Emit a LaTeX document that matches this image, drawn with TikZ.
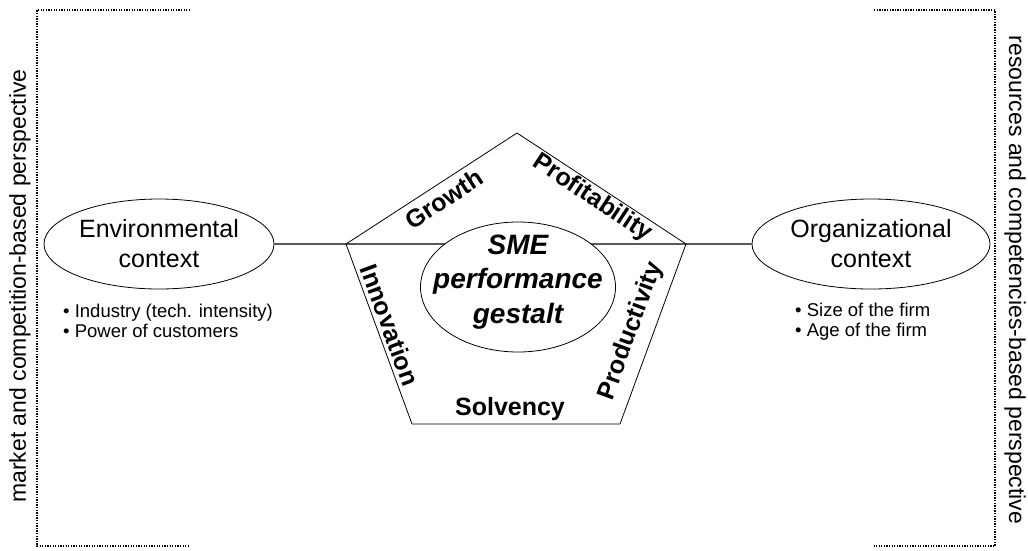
\documentclass[tikz,border=0pt]{standalone}
\usepackage{fontspec}
\setmainfont{Liberation Sans}
\usetikzlibrary{shapes.geometric}
\begin{document}
\begin{tikzpicture}[x=1pt,y=-1pt,
  ctx/.style={ellipse, draw, line width=0.8pt, inner sep=0pt, minimum width=230pt, minimum height=90pt, align=center, font=\fontsize{25}{30}\selectfont},
  corebox/.style={ellipse, draw, fill=white, line width=0.8pt, inner sep=0pt, minimum width=195pt, minimum height=130pt},
  coretxt/.style={align=center, inner sep=0pt, font=\fontsize{28}{34.5}\selectfont\bfseries\itshape},
  dimlabel/.style={font=\fontsize{25}{30}\selectfont\bfseries, inner sep=0pt},
  bul/.style={font=\fontsize{18.5}{19.5}\selectfont, align=left, anchor=base west, inner sep=0pt},
  side/.style={font=\fontsize{23}{28}\selectfont, inner sep=0pt},
  bracket/.style={line width=1.4pt, dash pattern=on 1.3pt off 1.3pt},
  link/.style={draw=black!65, line width=1.5pt},
  pent/.style={draw, line width=0.8pt}
]
\path[use as bounding box] (0,0) rectangle (1028,550);

% dotted brackets
\coordinate (lt) at (190,10);
\coordinate (ltc) at (37,10);
\coordinate (lbc) at (37,546);
\coordinate (lb) at (190,546);
\coordinate (rt) at (874,10);
\coordinate (rtc) at (995,10);
\coordinate (rbc) at (995,546);
\coordinate (rb) at (874,546);
\draw[bracket] (lt) -- (ltc) -- (lbc) -- (lb);
\draw[bracket] (rt) -- (rtc) -- (rbc) -- (rb);

\node[side, rotate=90] (lside) at (20,286) {market and competition-based perspective};
\node[side, rotate=-90] (rside) at (1015,280) {resources and competencies-based perspective};

% context ellipses
\node[ctx] (env) at (159,244) {Environmental\\context};
\node[ctx, minimum width=238pt] (org) at (871,244) {Organizational\\context};

% pentagon
\coordinate (ptop) at (517,133);
\coordinate (pright) at (686,244);
\coordinate (pbr) at (620,424);
\coordinate (pbl) at (412,424);
\coordinate (pleft) at (346,244);

\draw[link] (env.east) -- (org.west);
\draw[pent] (ptop) -- (pright) -- (pbr) -- (pbl) -- (pleft) -- cycle;

\node[corebox] (core) at (518,287) {};
\node[coretxt] (coretext) at (518,282) {SME\\performance\\gestalt};

\node[dimlabel, rotate=33] (growth) at (444,199) {Growth};
\node[dimlabel, rotate=-33.5] (profit) at (592,198) {Profitability};
\node[dimlabel, rotate=-70] (innov) at (390,325) {Innovation};
\node[dimlabel, rotate=70] (prod) at (631,331) {Productivity};
\node[dimlabel, anchor=base] (solv) at (510,415) {Solvency};

% bullets
\node[bul] (envlist) at (63,337) {• Industry (tech. intensity)\\• Power of customers};
\node[bul] (orglist) at (795,336) {• Size of the firm\\• Age of the firm};
\end{tikzpicture}
\end{document}
